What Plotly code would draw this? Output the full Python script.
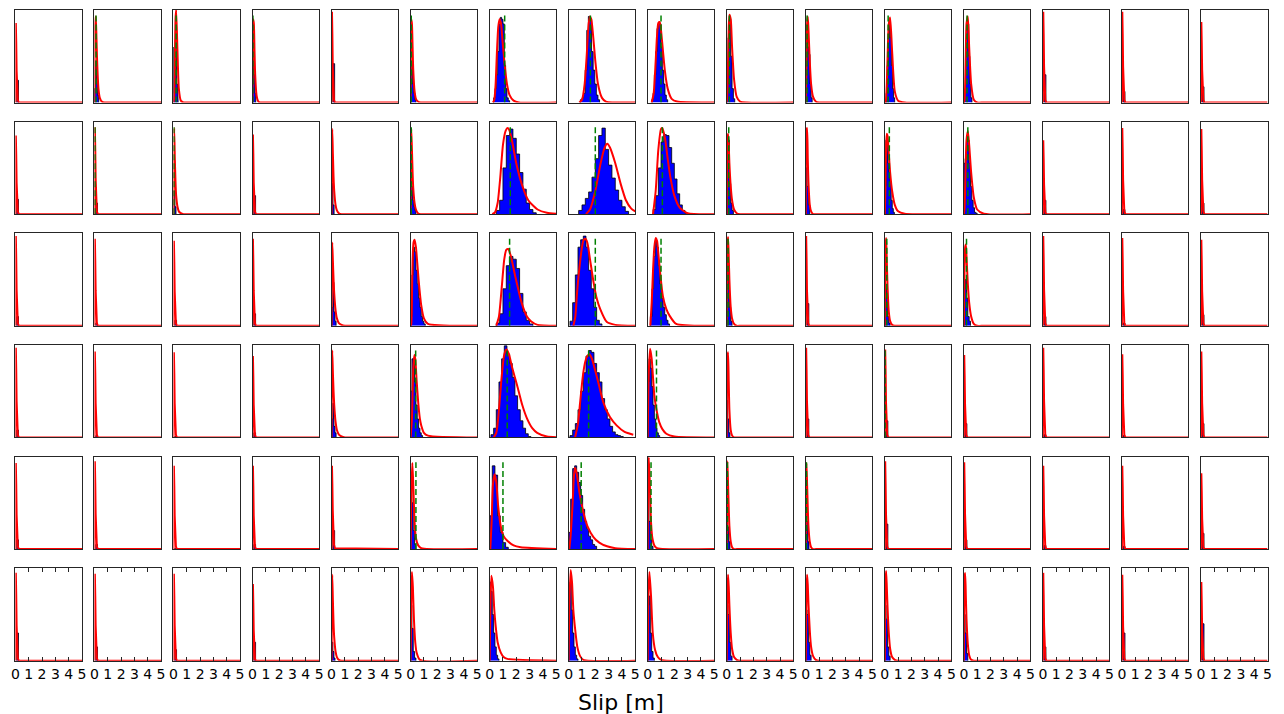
import plotly.graph_objects as go

# ---------------- data ----------------
# Heights are relative to the panel height (0..1); x is slip in metres.
SPIKE_X = [0, 0.03, 0.06, 0.09, 0.13, 0.18, 0.25, 5.0]
MID_X = [0, 0.05, 0.1, 0.15, 0.2, 0.3, 0.4, 0.55, 0.75, 1.0, 1.5, 5.0]
TICK_VALUES = [0, 1, 2, 3, 4, 5]
X_LABEL = "Slip [m]"

# Fitted curves: ("S", y on SPIKE_X), ("M", y on MID_X) or (x list, y list)
ROW0_CURVES = [
    ("S", [0, .86, .65, .34, .1, .03, 0, 0]),
    ("M", [0, .85, .93, .7, .45, .15, .05, .01, 0, 0, 0, 0]),
    ("M", [0, .05, .4, .9, 1.0, .55, .15, .02, 0, 0, 0, 0]),
    ("M", [0, .9, .85, .55, .3, .08, .02, 0, 0, 0, 0, 0]),
    ("S", [0, .98, .74, .39, .12, .03, 0, 0]),
    ("M", [0, .9, .85, .6, .35, .12, .04, .01, 0, 0, 0, 0]),
    ([0.25, 0.35, 0.45, 0.55, 0.65, 0.75, 0.85, 0.95, 1.1, 1.3, 1.5, 1.8, 2.2, 5],
     [0, 0.03, 0.2, 0.55, 0.82, 0.9, 0.86, 0.7, 0.45, 0.2, 0.08, 0.02, 0, 0]),
    ([0.8, 1.0, 1.2, 1.35, 1.5, 1.6, 1.7, 1.85, 2.0, 2.2, 2.5, 2.8, 5],
     [0, 0.03, 0.2, 0.5, 0.85, 0.93, 0.9, 0.7, 0.45, 0.2, 0.05, 0.01, 0]),
    ([0.3, 0.45, 0.6, 0.7, 0.8, 0.9, 1.0, 1.15, 1.3, 1.5, 1.8, 2.2, 5],
     [0, 0.1, 0.45, 0.72, 0.86, 0.87, 0.78, 0.55, 0.33, 0.15, 0.04, 0.01, 0]),
    ("M", [0, .1, .45, .8, .95, .9, .6, .25, .06, .01, 0, 0]),
    ("M", [0, .4, .85, .93, .8, .45, .2, .06, .01, 0, 0, 0]),
    ("M", [0, 0, .05, .2, .45, .85, .92, .55, .12, .02, 0, 0]),
    ("M", [0, .02, .2, .55, .85, .93, .6, .2, .03, 0, 0, 0]),
    ("S", [0, .98, .74, .39, .12, .03, 0, 0]),
    ("S", [0, .98, .74, .39, .12, .03, 0, 0]),
    ("S", [0, .87, .65, .35, .1, .03, 0, 0]),
]
ROW1_CURVES = [
    ("S", [0, .85, .64, .34, .1, .03, 0, 0]),
    ("S", [0, .94, .7, .38, .11, .03, 0, 0]),
    ("M", [0, .93, .6, .35, .2, .08, .03, .01, 0, 0, 0, 0]),
    ("S", [0, .86, .65, .34, .1, .03, 0, 0]),
    ("M", [0, .92, .65, .4, .25, .1, .04, .01, 0, 0, 0, 0]),
    ("M", [0, .92, .7, .45, .28, .12, .05, .01, 0, 0, 0, 0]),
    ([0.2, 0.4, 0.6, 0.8, 1.0, 1.2, 1.35, 1.5, 1.7, 2.0, 2.4, 2.9, 3.6, 4.3, 5.0],
     [0, 0.02, 0.12, 0.4, 0.75, 0.9, 0.93, 0.9, 0.78, 0.55, 0.33, 0.15, 0.05, 0.015, 0.005]),
    ([1.3, 1.6, 2.0, 2.4, 2.7, 2.9, 3.1, 3.5, 3.9, 4.3, 4.7, 5.0],
     [0, 0.05, 0.25, 0.55, 0.72, 0.76, 0.72, 0.55, 0.33, 0.15, 0.06, 0.03]),
    ([0.4, 0.6, 0.8, 1.0, 1.1, 1.3, 1.5, 1.7, 2.0, 2.4, 3.0, 5],
     [0, 0.25, 0.7, 0.92, 0.93, 0.82, 0.6, 0.4, 0.2, 0.07, 0.01, 0]),
    ("M", [0, .8, .87, .75, .55, .3, .15, .05, .01, 0, 0, 0]),
    ("M", [0, .9, .93, .6, .35, .1, .03, 0, 0, 0, 0, 0]),
    ("M", [0, .3, .75, .87, .85, .65, .45, .25, .1, .03, .005, 0]),
    ("M", [0, .05, .3, .6, .8, .9, .75, .45, .18, .05, .005, 0]),
    ("S", [0, .8, .6, .32, .1, .02, 0, 0]),
    ("S", [0, .93, .7, .37, .11, .03, 0, 0]),
    ("S", [0, .92, .69, .37, .11, .03, 0, 0]),
]
ROW2_CURVES = [
    ("S", [0, .97, .73, .39, .12, .03, 0, 0]),
    ("S", [0, .94, .7, .38, .11, .03, 0, 0]),
    ("S", [0, .92, .69, .37, .11, .03, 0, 0]),
    ("S", [0, .94, .7, .38, .11, .03, 0, 0]),
    ("M", [0, .9, .7, .5, .35, .17, .08, .03, .01, 0, 0, 0]),
    ([0, 0.05, 0.1, 0.15, 0.22, 0.3, 0.4, 0.5, 0.6, 0.8, 1.0, 1.3, 5],
     [0, 0.02, 0.3, 0.7, 0.9, 0.93, 0.85, 0.68, 0.5, 0.22, 0.08, 0.02, 0]),
    ([0.5, 0.7, 0.9, 1.1, 1.25, 1.4, 1.6, 1.9, 2.4, 2.8, 3.1, 3.6, 5],
     [0, 0.1, 0.4, 0.72, 0.82, 0.83, 0.75, 0.55, 0.25, 0.1, 0.05, 0.01, 0]),
    ([0.35, 0.5, 0.63, 0.75, 0.88, 1.0, 1.1, 1.25, 1.4, 1.6, 1.87, 2.1, 2.37, 2.87, 3.5, 5],
     [0, 0.1, 0.36, 0.55, 0.72, 0.85, 0.92, 0.94, 0.9, 0.72, 0.47, 0.3, 0.18, 0.04, 0.01, 0]),
    ([0.2, 0.3, 0.4, 0.5, 0.6, 0.7, 0.8, 0.95, 1.14, 1.4, 1.64, 2.14, 5],
     [0, 0.25, 0.6, 0.85, 0.95, 0.92, 0.78, 0.55, 0.32, 0.18, 0.11, 0.02, 0]),
    ("M", [0, .85, .96, .75, .5, .2, .08, .02, 0, 0, 0, 0]),
    ("S", [0, .97, .73, .39, .12, .03, 0, 0]),
    ("M", [0, .85, .95, .7, .45, .15, .05, .01, 0, 0, 0, 0]),
    ("M", [0, .6, .85, .88, .75, .45, .25, .1, .02, 0, 0, 0]),
    ("S", [0, .97, .73, .39, .12, .03, 0, 0]),
    ("S", [0, .95, .71, .38, .11, .03, 0, 0]),
    ("S", [0, .93, .7, .37, .11, .03, 0, 0]),
]
ROW3_CURVES = [
    ("S", [0, .97, .73, .39, .12, .03, 0, 0]),
    ("S", [0, .93, .7, .37, .11, .03, 0, 0]),
    ("S", [0, .92, .69, .37, .11, .03, 0, 0]),
    ("S", [0, .88, .66, .35, .11, .03, 0, 0]),
    ("M", [0, .94, .7, .5, .35, .17, .08, .03, .01, 0, 0, 0]),
    ([0, 0.1, 0.2, 0.28, 0.35, 0.45, 0.57, 0.7, 0.8, 1.0, 1.3, 5],
     [0, 0.2, 0.75, 0.89, 0.85, 0.62, 0.38, 0.2, 0.13, 0.05, 0.02, 0]),
    ([0.3, 0.5, 0.7, 0.9, 1.1, 1.27, 1.45, 1.7, 2.07, 2.45, 2.82, 3.2, 3.57, 4.3, 5],
     [0, 0.05, 0.3, 0.65, 0.9, 0.95, 0.9, 0.75, 0.56, 0.35, 0.2, 0.1, 0.05, 0.01, 0.003]),
    ([0.48, 0.7, 0.86, 1.0, 1.1, 1.25, 1.4, 1.56, 1.75, 2.0, 2.3, 2.6, 3.1, 3.6, 4.2, 4.85],
     [0, 0.15, 0.38, 0.58, 0.7, 0.82, 0.88, 0.9, 0.85, 0.72, 0.55, 0.38, 0.22, 0.13, 0.06, 0.03]),
    ([0, 0.08, 0.18, 0.3, 0.5, 0.7, 0.88, 1.1, 1.4, 2.0, 5],
     [0, 0.7, 0.96, 0.85, 0.45, 0.27, 0.16, 0.09, 0.04, 0.01, 0]),
    ("M", [0, .85, .92, .6, .3, .08, .02, 0, 0, 0, 0, 0]),
    ("S", [0, .97, .73, .39, .12, .03, 0, 0]),
    ("S", [0, .95, .71, .38, .11, .03, 0, 0]),
    ("S", [0, .89, .67, .36, .11, .03, 0, 0]),
    ("S", [0, .97, .73, .39, .12, .03, 0, 0]),
    ("S", [0, .9, .68, .36, .11, .03, 0, 0]),
    ("S", [0, .93, .7, .37, .11, .03, 0, 0]),
]
ROW4_CURVES = [
    ("S", [0, .93, .7, .37, .11, .03, 0, 0]),
    ("S", [0, .95, .71, .38, .11, .03, 0, 0]),
    ("S", [0, .9, .68, .36, .11, .03, 0, 0]),
    ("S", [0, .9, .68, .36, .11, .03, 0, 0]),
    ("S", [0, .9, .7, .42, .16, .05, .01, 0]),
    ([0, 0.05, 0.13, 0.2, 0.3, 0.4, 0.57, 0.8, 5],
     [0, 0.6, 0.93, 0.7, 0.29, 0.12, 0.04, 0.01, 0]),
    ([0.05, 0.15, 0.25, 0.37, 0.5, 0.65, 0.83, 1.05, 1.33, 1.8, 2.33, 5],
     [0, 0.3, 0.7, 0.81, 0.72, 0.45, 0.25, 0.14, 0.09, 0.04, 0.02, 0]),
    ([0.05, 0.15, 0.3, 0.4, 0.48, 0.6, 0.8, 1.1, 1.4, 1.86, 2.3, 2.88, 3.5, 5],
     [0, 0.15, 0.5, 0.8, 0.88, 0.82, 0.62, 0.4, 0.25, 0.13, 0.07, 0.03, 0.01, 0]),
    ([0, 0.03, 0.08, 0.15, 0.25, 0.35, 0.5, 0.7, 5],
     [0, 0.7, 0.99, 0.75, 0.29, 0.12, 0.04, 0.01, 0]),
    ("M", [0, .95, .7, .45, .25, .08, .02, 0, 0, 0, 0, 0]),
    ("M", [0, .93, .7, .45, .25, .08, .02, 0, 0, 0, 0, 0]),
    ("S", [0, .95, .71, .38, .11, .03, 0, 0]),
    ("S", [0, .94, .7, .38, .11, .03, 0, 0]),
    ("S", [0, .9, .68, .36, .11, .03, 0, 0]),
    ("S", [0, .9, .68, .36, .11, .03, 0, 0]),
    ("S", [0, .82, .62, .33, .1, .02, 0, 0]),
]
ROW5_CURVES = [
    ("S", [0, .95, .71, .38, .11, .03, 0, 0]),
    ("S", [0, .94, .7, .38, .11, .03, 0, 0]),
    ("S", [0, .94, .7, .38, .11, .03, 0, 0]),
    ("S", [0, .83, .62, .33, .1, .02, 0, 0]),
    ("M", [0, .93, .65, .4, .25, .1, .04, .01, 0, 0, 0, 0]),
    ([0, 0.05, 0.1, 0.17, 0.25, 0.35, 0.45, 0.7, 5],
     [0, 0.7, 0.96, 0.8, 0.45, 0.2, 0.09, 0.01, 0]),
    ([0, 0.05, 0.13, 0.25, 0.35, 0.45, 0.6, 0.83, 1.05, 1.33, 5],
     [0, 0.5, 0.92, 0.8, 0.55, 0.38, 0.2, 0.09, 0.04, 0.02, 0]),
    ([0, 0.05, 0.15, 0.25, 0.35, 0.48, 0.65, 0.86, 1.1, 5],
     [0, 0.6, 0.98, 0.85, 0.55, 0.35, 0.15, 0.05, 0.01, 0]),
    ([0, 0.05, 0.13, 0.25, 0.38, 0.55, 0.76, 1.0, 5],
     [0, 0.7, 0.96, 0.7, 0.3, 0.12, 0.04, 0.01, 0]),
    ("M", [0, .75, .93, .8, .6, .3, .13, .04, .01, 0, 0, 0]),
    ("M", [0, .75, .93, .82, .62, .33, .15, .05, .01, 0, 0, 0]),
    ("M", [0, .85, .97, .8, .6, .3, .13, .04, .01, 0, 0, 0]),
    ("M", [0, .9, .95, .7, .45, .18, .06, .01, 0, 0, 0, 0]),
    ("S", [0, .95, .71, .38, .11, .03, 0, 0]),
    ("S", [0, .93, .7, .37, .11, .03, 0, 0]),
    ("S", [0, .85, .64, .34, .1, .03, 0, 0]),
]

# Histograms: (first bin edge, bin width, bar heights)
ROW0_HISTS = [
    (0.1, 0.13, [0.24]),
    (0, 0.08, [0.15, 0.45, 0.25, 0.08]),
    (0, 0.05, [0.6, 0.1, 0.3, 0.7, 0.5, 0.2, 0.05]),
    (0, 0.06, [0.2, 0.5, 0.3, 0.1]),
    (0.1, 0.13, [0.42]),
    (0, 0.08, [0.3, 0.45, 0.2, 0.1, 0.03]),
    (0.3, 0.1, [0.05, 0.15, 0.3, 0.55, 0.85, 0.92, 0.9, 0.85, 0.4, 0.15, 0.05, 0.02]),
    (0.88, 0.12, [0.03, 0.05, 0.1, 0.35, 0.78, 0.93, 0.9, 0.55, 0.35, 0.2, 0.08, 0.03]),
    (0.3, 0.1, [0.03, 0.1, 0.3, 0.55, 0.8, 0.85, 0.85, 0.6, 0.35, 0.2, 0.08, 0.03]),
    (0, 0.1, [0.2, 0.7, 0.9, 0.5, 0.15, 0.04]),
    (0, 0.08, [0.4, 0.8, 0.6, 0.52, 0.2, 0.05]),
    (0.1, 0.08, [0.1, 0.4, 0.7, 0.9, 0.7, 0.4, 0.15, 0.05]),
    (0.05, 0.08, [0.1, 0.5, 0.8, 0.85, 0.5, 0.2, 0.05]),
    (0.1, 0.13, [0.3]),
    (0.1, 0.13, [0.12]),
    (0.1, 0.13, [0.17]),
]
ROW1_HISTS = [
    (0.1, 0.13, [0.16]),
    (0.1, 0.13, [0.12]),
    (0.03, 0.08, [0.25, 0.08]),
    (0.1, 0.13, [0.2]),
    (0.03, 0.08, [0.33, 0.1]),
    (0, 0.08, [0.5, 0.3, 0.15, 0.08, 0.04]),
    (0.5, 0.25, [0.04, 0.15, 0.5, 0.85, 0.92, 0.82, 0.65, 0.45, 0.27, 0.12, 0.05, 0.015]),
    (0.75, 0.25, [0.04, 0.1, 0.17, 0.24, 0.4, 0.6, 0.85, 0.93, 0.7, 0.53, 0.39, 0.26, 0.15, 0.08, 0.03]),
    (0.4, 0.2, [0.05, 0.2, 0.5, 0.78, 0.86, 0.85, 0.72, 0.55, 0.38, 0.22, 0.1, 0.04, 0.01]),
    (0, 0.1, [0.7, 0.8, 0.33, 0.12, 0.04]),
    (0, 0.1, [0.5, 0.3, 0.1]),
    (0, 0.08, [0.3, 0.8, 0.75, 0.55, 0.45, 0.35, 0.15, 0.06, 0.02]),
    (0, 0.1, [0.55, 0.6, 0.85, 0.8, 0.55, 0.3, 0.15, 0.07, 0.02, 0.01]),
    (0.1, 0.13, [0.15]),
    (0.1, 0.13, [0.05]),
    (0.1, 0.13, [0.12]),
]
ROW2_HISTS = [
    (0.1, 0.13, [0.1]),
    (0.1, 0.13, [0.03]),
    (0.1, 0.13, [0.06]),
    (0.1, 0.13, [0.13]),
    (0.02, 0.08, [0.2, 0.47, 0.15, 0.05]),
    (0, 0.1, [0.1, 0.55, 0.85, 0.8, 0.6, 0.45, 0.3, 0.2, 0.1, 0.05, 0.02]),
    (0.5, 0.25, [0.03, 0.13, 0.4, 0.65, 0.75, 0.72, 0.62, 0.35, 0.15, 0.06, 0.02]),
    (0.1, 0.2, [0.05, 0.25, 0.55, 0.85, 0.93, 0.97, 0.85, 0.6, 0.4, 0.2, 0.06, 0.02]),
    (0.2, 0.12, [0.1, 0.4, 0.75, 0.92, 0.85, 0.65, 0.45, 0.3, 0.2, 0.12, 0.06, 0.02]),
    (0, 0.1, [0.4, 0.6, 0.2, 0.05]),
    (0.1, 0.13, [0.24]),
    (0, 0.1, [0.3, 0.4, 0.1, 0.03]),
    (0, 0.1, [0.4, 0.5, 0.3, 0.1, 0.05]),
    (0.1, 0.13, [0.1]),
    (0.1, 0.13, [0.03]),
    (0.1, 0.13, [0.12]),
]
ROW3_HISTS = [
    (0.1, 0.13, [0.08]),
    (0.1, 0.13, [0.02]),
    (0.1, 0.13, [0.01]),
    (0.1, 0.13, [0.05]),
    (0.02, 0.08, [0.2, 0.37, 0.12, 0.05]),
    (0, 0.1, [0.5, 0.85, 0.8, 0.6, 0.35, 0.2, 0.1, 0.05, 0.02]),
    (0.1, 0.2, [0.03, 0.1, 0.3, 0.6, 0.85, 0.99, 0.9, 0.8, 0.65, 0.45, 0.3, 0.18, 0.1, 0.04, 0.01]),
    (0.1, 0.2, [0.02, 0.08, 0.15, 0.3, 0.5, 0.7, 0.88, 0.94, 0.92, 0.8, 0.7, 0.6, 0.42, 0.3,
                0.2, 0.12, 0.06, 0.03, 0.02, 0.01]),
    (0, 0.1, [0.6, 0.85, 0.75, 0.55, 0.35, 0.2, 0.1, 0.05, 0.02]),
    (0, 0.08, [0.4, 0.2, 0.05]),
    (0.1, 0.13, [0.2]),
    (0.1, 0.13, [0.18]),
    (0.1, 0.13, [0.15]),
    (0.1, 0.13, [0.03]),
    (0.1, 0.13, [0.02]),
    (0.1, 0.13, [0.15]),
]
ROW4_HISTS = [
    (0.1, 0.13, [0.1]),
    (0.1, 0.13, [0.05]),
    (0.1, 0.13, [0.01]),
    (0.1, 0.13, [0.05]),
    (0.1, 0.13, [0.2]),
    (0, 0.1, [0.7, 0.5, 0.2, 0.05]),
    (0, 0.2, [0.36, 0.9, 0.8, 0.36, 0.18, 0.07, 0.02]),
    (0, 0.15, [0.18, 0.54, 0.87, 0.9, 0.83, 0.72, 0.58, 0.43, 0.3, 0.22, 0.14, 0.1, 0.05, 0.03]),
    (0, 0.1, [0.6, 0.3, 0.1, 0.03]),
    (0, 0.08, [0.4, 0.24, 0.08]),
    (0, 0.08, [0.5, 0.3, 0.08]),
    (0.1, 0.13, [0.27]),
    (0.1, 0.13, [0.1]),
    (0.1, 0.13, [0.04]),
    (0.1, 0.13, [0.03]),
    (0.1, 0.13, [0.17]),
]
ROW5_HISTS = [
    (0.1, 0.13, [0.3]),
    (0.1, 0.13, [0.15]),
    (0.1, 0.13, [0.12]),
    (0.1, 0.13, [0.2]),
    (0.02, 0.08, [0.2, 0.1, 0.03]),
    (0, 0.1, [0.6, 0.35, 0.1, 0.03]),
    (0, 0.1, [0.85, 0.75, 0.5, 0.3, 0.15, 0.06, 0.02]),
    (0, 0.1, [0.8, 0.85, 0.55, 0.3, 0.15, 0.06, 0.02]),
    (0, 0.1, [0.6, 0.7, 0.3, 0.1, 0.03]),
    (0, 0.1, [0.6, 0.5, 0.2, 0.05]),
    (0, 0.1, [0.55, 0.5, 0.2, 0.06]),
    (0, 0.1, [0.6, 0.45, 0.15, 0.05]),
    (0, 0.1, [0.5, 0.3, 0.08]),
    (0.1, 0.13, [0.15]),
    (0.1, 0.13, [0.3]),
    (0.1, 0.13, [0.4]),
]

# Green dashed reference slip per panel (None = not visible)
ROW0_GREEN = [None, 0.12, 0.2, 0.03, None, 0.05, 1.13, 1.63, 1.0, 0.2, 0.1, 0.25, 0.24, None, None, None]
ROW1_GREEN = [None, 0.04, 0.03, None, None, 0.05, 1.55, 2.0, 1.1, 0.15, None, 0.34, 0.3, None, None, None]
ROW2_GREEN = [None, None, None, None, None, None, 1.5, 2.0, 1.0, 0.1, None, 0.15, 0.2, None, None, None]
ROW3_GREEN = [None, None, None, None, None, 0.38, 1.32, 1.5, 0.66, None, None, 0.02, None, None, None, None]
ROW4_GREEN = [None, None, None, None, None, 0.4, 1.0, 0.94, 0.25, 0.05, 0.05, None, None, None, None, None]
ROW5_GREEN = [None] * 16
GREEN_TOP = 0.94

CURVES = [ROW0_CURVES, ROW1_CURVES, ROW2_CURVES, ROW3_CURVES, ROW4_CURVES, ROW5_CURVES]
HISTS = [ROW0_HISTS, ROW1_HISTS, ROW2_HISTS, ROW3_HISTS, ROW4_HISTS, ROW5_HISTS]
GREENS = [ROW0_GREEN, ROW1_GREEN, ROW2_GREEN, ROW3_GREEN, ROW4_GREEN, ROW5_GREEN]

# ---------------- layout geometry (pixels) ----------------
W, H = 1284, 714
NROWS, NCOLS = 6, 16
LEFT0, COL_PITCH, PANEL_W = 11.5, 79.53, 67.0
TOP0, ROW_PITCH, PANEL_H = 10.0, 111.65, 92.5

FONT = "DejaVu Sans"
FRAME = "#262626"
fig = go.Figure()
layout = dict(
    width=W, height=H, margin=dict(l=0, r=0, t=0, b=0),
    paper_bgcolor="white", plot_bgcolor="white",
    showlegend=False,
    font=dict(family=FONT, size=14, color="black"),
)


def step_outline(start, bw, heights):
    """Outline of a filled step histogram built from bin edges and heights."""
    xs, ys = [start], [0]
    for i, h in enumerate(heights):
        x0 = start + bw * i
        xs += [x0, x0 + bw]
        ys += [h, h]
    xs.append(start + bw * len(heights))
    ys.append(0)
    return xs, ys


for r in range(NROWS):
    for c in range(NCOLS):
        k = r * NCOLS + c + 1
        xa = "x" if k == 1 else f"x{k}"
        ya = "y" if k == 1 else f"y{k}"
        left = LEFT0 + c * COL_PITCH
        top = TOP0 + r * ROW_PITCH
        bottom_row = (r == NROWS - 1)
        layout["xaxis" if k == 1 else f"xaxis{k}"] = dict(
            domain=[left / W, (left + PANEL_W) / W], anchor=ya,
            range=[0, 5], showgrid=False, zeroline=False,
            showline=True, linecolor=FRAME, linewidth=1,
            mirror="ticks" if bottom_row else True,
            ticks="inside" if bottom_row else "", ticklen=4, tickcolor=FRAME,
            tickvals=TICK_VALUES, showticklabels=bottom_row,
            tickfont=dict(family=FONT, size=14, color="black"),
        )
        layout["yaxis" if k == 1 else f"yaxis{k}"] = dict(
            domain=[1 - (top + PANEL_H) / H, 1 - top / H], anchor=xa,
            range=[0, 1], showgrid=False, zeroline=False,
            showline=True, linecolor=FRAME, linewidth=1, mirror=True,
            ticks="", showticklabels=False,
        )

        # histogram (step-filled)
        start, bw, heights = HISTS[r][c]
        hx, hy = step_outline(start, bw, heights)
        fig.add_trace(go.Scatter(
            x=hx, y=hy, xaxis=xa, yaxis=ya, mode="lines",
            fill="toself", fillcolor="#0000ff",
            line=dict(color="black", width=0.8),
            hoverinfo="skip",
        ))

        # fitted curve
        kind, ys = CURVES[r][c]
        if kind == "S":
            xs, shape = SPIKE_X, "linear"
        elif kind == "M":
            xs, shape = MID_X, "spline"
        else:
            xs, shape = kind, "spline"
        fig.add_trace(go.Scatter(
            x=xs, y=ys, xaxis=xa, yaxis=ya, mode="lines",
            line=dict(color="#ff0000", width=2, shape=shape, smoothing=0.6),
            hoverinfo="skip",
        ))

        # green dashed line
        g = GREENS[r][c]
        if g is not None:
            fig.add_trace(go.Scatter(
                x=[g, g], y=[0, GREEN_TOP], xaxis=xa, yaxis=ya, mode="lines",
                line=dict(color="#008000", width=1.5, dash="6px,3px"),
                hoverinfo="skip",
            ))

layout["annotations"] = [dict(
    text=X_LABEL, x=621 / W, y=1 - 702 / H, xref="paper", yref="paper",
    xanchor="center", yanchor="middle", showarrow=False,
    font=dict(family=FONT, size=22, color="black"),
)]
fig.update_layout(**layout)
fig.write_html("out.html")
